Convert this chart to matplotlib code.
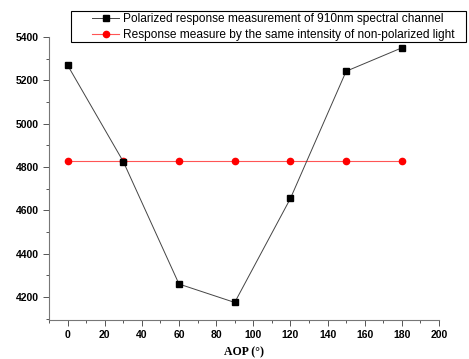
import matplotlib
matplotlib.use("Agg")
import matplotlib.pyplot as plt
from matplotlib.ticker import MultipleLocator
from matplotlib.patches import Rectangle

aop = [0, 30, 60, 90, 120, 150, 180]
polarized = [5270, 4825, 4260, 4175, 4655, 5242, 5350]
nonpolarized = [4826, 4826, 4826, 4826, 4826, 4826, 4826]
label_pol = "Polarized response measurement of 910nm spectral channel"
label_non = "Response measure by the same intensity of non-polarized light"

fig = plt.figure(figsize=(4.69, 3.59), dpi=100)
ax = fig.add_axes([49/469, 39/359, (439-49)/469, (320-37)/359])

ax.plot(aop, nonpolarized, color="#ff5555", lw=0.8, marker="o", ms=4.5,
        mfc="red", mec="red", label=label_non, zorder=2)
ax.plot(aop, polarized, color="#444444", lw=0.7, marker="s", ms=4.5,
        mfc="black", mec="black", label=label_pol, zorder=3)

ax.set_xlim(-10, 200)
ax.set_ylim(4094, 5400)
ax.xaxis.set_major_locator(MultipleLocator(20))
ax.xaxis.set_minor_locator(MultipleLocator(10))
ax.yaxis.set_major_locator(MultipleLocator(200))
ax.yaxis.set_minor_locator(MultipleLocator(100))

for s in ["top", "right"]:
    ax.spines[s].set_visible(False)
for s in ["left", "bottom"]:
    ax.spines[s].set_color("#777777")
    ax.spines[s].set_linewidth(0.8)
ax.tick_params(which="both", direction="out", color="#555555", width=0.7)
ax.tick_params(which="major", length=4, labelsize=7.5)
ax.tick_params(which="minor", length=2)
for lab in ax.get_xticklabels() + ax.get_yticklabels():
    lab.set_fontweight("bold")
    lab.set_family("Liberation Sans")

ax.set_xlabel("AOP (°)", fontsize=8.5, fontweight="bold", family="Liberation Serif", labelpad=4)

fig.patches.append(Rectangle((71/469, 1 - 42/359), 395/469, 31/359,
                             transform=fig.transFigure, fill=False,
                             edgecolor="black", lw=0.8))

h, l = ax.get_legend_handles_labels()
leg = fig.legend(h[::-1], l[::-1], loc="upper left", bbox_to_anchor=(90/469, 1 - 11/359),
                 fontsize=8.6, frameon=False, borderpad=0.2, labelspacing=0.3,
                 handlelength=2.2, handletextpad=0.4, borderaxespad=0)
for t in leg.get_texts():
    t.set_family("Liberation Sans")

fig.savefig("out.png", dpi=100)
